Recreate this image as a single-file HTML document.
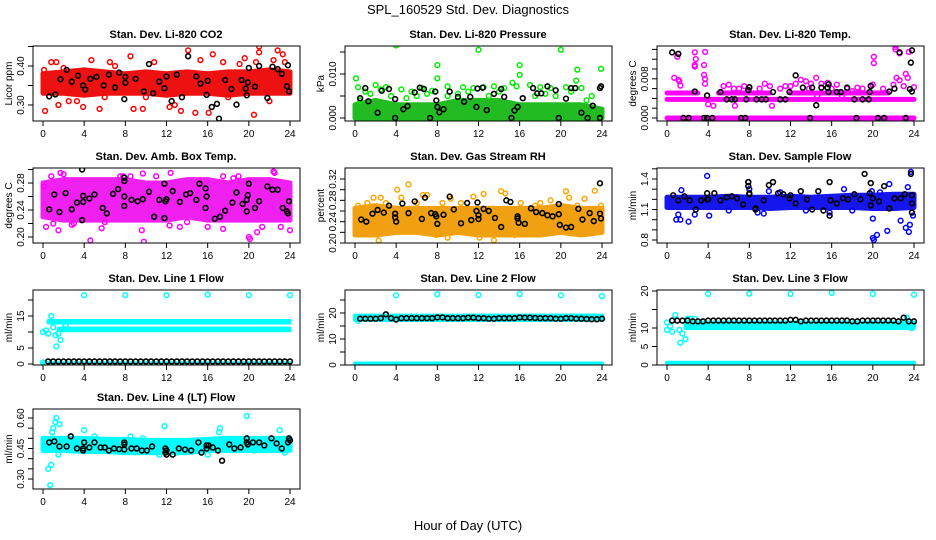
<!DOCTYPE html>
<html><head><meta charset="utf-8"><style>
html,body{margin:0;padding:0;background:#fff}
svg{display:block;font-family:"Liberation Sans",Arial,sans-serif}
</style></head><body>
<svg id="fig" width="936" height="540" viewBox="0 0 936 540">
<text x="468" y="14" text-anchor="middle" font-size="13">SPL_160529  Std. Dev. Diagnostics</text>
<text x="468" y="530" text-anchor="middle" font-size="13">Hour of Day (UTC)</text>
</svg>
<script>
const bandHours=[0,2,4,6,8,10,12,14,16,18,20,22,24];
const xTicks=[0,4,8,12,16,20,24];
const rowHours=[0.5,1,1.5,2,2.5,3,3.5,4,4.5,5,5.5,6,6.5,7,7.5,8,8.5,9,9.5,10,10.5,11,11.5,12,12.5,13,13.5,14,14.5,15,15.5,16,16.5,17,17.5,18,18.5,19,19.5,20,20.5,21,21.5,22,22.5,23,23.5,24];
const flowOutHours=[4,8,12,16,20,24];

// P1 CO2
const co2Lo=[0.33,0.33,0.325,0.33,0.33,0.33,0.325,0.33,0.33,0.325,0.33,0.33,0.33];
const co2Hi=[0.38,0.385,0.39,0.385,0.38,0.385,0.38,0.385,0.38,0.385,0.385,0.39,0.385];
const co2Pts=[[0.2,0.285],[0.8,0.41],[1.3,0.41],[1.5,0.30],[2.0,0.395],[3.3,0.31],[3.9,0.295],[4.7,0.415],[5.5,0.29],[6.5,0.41],[7.0,0.40],[8.5,0.425],[8.8,0.29],[9.7,0.29],[10.8,0.41],[12.3,0.295],[12.8,0.30],[13.4,0.285],[14.1,0.44],[14.8,0.28],[15.3,0.415],[16.1,0.28],[16.5,0.43],[17.5,0.41],[19.1,0.405],[19.6,0.42],[20.5,0.275],[20.7,0.41],[21.0,0.45],[21.0,0.435],[22.0,0.31],[22.4,0.415],[22.8,0.44],[23.3,0.43],[23.5,0.41],[0.1,0.39],[6,0.32],[10,0.32],[18,0.32],[2.5,0.31]];
const co2Blk=[[0.6,0.322],[1.2,0.327],[1.7,0.366],[2.3,0.39],[2.8,0.36],[3.4,0.375],[3.9,0.35],[4.1,0.34],[4.6,0.367],[5.2,0.372],[5.9,0.35],[6.4,0.378],[7.0,0.345],[7.4,0.383],[7.9,0.315],[8.0,0.372],[8.0,0.357],[9.0,0.367],[9.8,0.335],[10.3,0.405],[10.7,0.33],[11.3,0.36],[12.0,0.373],[11.8,0.343],[12.5,0.31],[13.0,0.378],[13.5,0.32],[14.1,0.425],[14.9,0.373],[15.3,0.355],[15.9,0.326],[16.0,0.362],[16.4,0.295],[16.9,0.303],[17.1,0.265],[17.7,0.364],[18.3,0.341],[18.8,0.301],[19.3,0.364],[19.7,0.342],[19.8,0.325],[19.9,0.358],[20.0,0.395],[20.6,0.347],[21.0,0.4],[21.8,0.318],[22.3,0.398],[22.8,0.392],[23.2,0.38],[23.8,0.402],[23.7,0.348],[23.9,0.335]];

// P2 Pressure
const presLo=[0.0003,0.0003,0.0003,0.0003,0.0003,0.0003,0.0003,0.0003,0.0003,0.0003,0.0003,0.0003,0.0003];
const presHi=[0.003,0.004,0.003,0.003,0.003,0.004,0.004,0.004,0.003,0.003,0.003,0.003,0.002];
const presRowLo=[0,0,0,0,0,0,0,0,0,0,0,0,0];
const presRowHi=[0,0,0,0,0,0,0,0,0,0,0,0,0];
const presPts=[[0.1,0.009],[4.0,0.0165],[8.0,0.012],[8.0,0.009],[12.0,0.0155],[16.0,0.012],[16.0,0.0098],[20.0,0.0155],[21.6,0.011],[23.9,0.0112],[0.3,0.007],[1.0,0.006],[2.0,0.0075],[2.5,0.0065],[3.0,0.007],[4.5,0.0065],[5.5,0.006],[6.5,0.0068],[7.5,0.0062],[9.0,0.0072],[10.5,0.007],[11.5,0.0068],[12.5,0.007],[13.5,0.0072],[14.5,0.0068],[15.3,0.008],[15.7,0.0072],[17.0,0.0075],[18.0,0.007],[19.0,0.0068],[20.5,0.007],[21.5,0.0085],[22.0,0.0068],[23.0,0.005],[0.5,0.004],[3.5,0.005],[6,0.005],[9,0.005],[13,0.005],[17.5,0.005],[19.5,0.005],[22.5,0.004],[1.5,0.0055],[5,0.0045],[7,0.0055],[10,0.0055],[11,0.006],[14,0.006],[18.5,0.0055],[21,0.006]];
const presBlk=[[0.5,0.0045],[1.0,0.0068],[1.3,0.0038],[2.2,0.0012],[2.6,0.0062],[3.3,0.0066],[3.9,0.0043],[3.9,0],[4.7,0.002],[5.1,0.0027],[5.8,0.0058],[6.3,0.0069],[6.7,0.0066],[7.3,0],[7.8,0.006],[7.9,0.004],[8.0,0.0025],[8.2,0.0013],[8.6,0.002],[9.2,0.006],[10.0,0.0048],[10.6,0.0037],[11.2,0.0048],[11.8,0.0025],[11.9,0.0067],[12.4,0.0069],[12.8,0.0018],[13.5,0.0055],[14.2,0.0066],[14.5,0.0048],[15.2,0],[15.5,0.0017],[15.8,0.0025],[16.3,0.0045],[17.3,0.0068],[17.7,0.0056],[18.1,0.0056],[18.7,0.0072],[19.5,0.0063],[19.8,0],[20.5,0.0044],[21.0,0.0068],[21.4,0.0068],[22.0,0.0012],[22.6,0],[23.1,0.0028],[23.8,0.0068],[23.8,0],[23.9,0.0072]];

// P3 Li-820 Temp
const tmpRow0=[0,0,0,0,0,0,0,0,0,0,0,0,0];
const tmpRow1=[0.0038,0.0038,0.0038,0.0038,0.0038,0.0038,0.0038,0.0038,0.0038,0.0038,0.0038,0.0038,0.0038];
const tmpRow2=[0.0051,0.0051,0.0051,0.0051,0.0051,0.0051,0.0051,0.0051,0.0051,0.0051,0.0051,0.0051,0.0051];
const tmpPts=[[0.7,0.0082],[1.0,0.0125],[1.1,0.0078],[1.2,0.0075],[1.3,0.0066],[2.7,0.0134],[2.8,0.0120],[2.7,0.0108],[2.7,0.0105],[3.7,0.0135],[3.6,0.0108],[3.6,0.0088],[3.7,0.0080],[3.7,0.007],[4.0,0.0028],[4.5,0.0025],[5.5,0.0065],[6.0,0.0068],[6.5,0.006],[7.0,0.006],[7.5,0.0065],[8.0,0.0062],[9.5,0.007],[10.0,0.0065],[11.0,0.006],[11.5,0.0065],[12.5,0.007],[13.0,0.0078],[13.5,0.0075],[14.0,0.007],[14.5,0.0082],[15.0,0.007],[15.6,0.0072],[16.5,0.0068],[17.5,0.006],[18.0,0.0055],[19.0,0.006],[19.8,0.0066],[20.1,0.0112],[20.1,0.0125],[20.0,0.0068],[21.0,0.006],[22.0,0.0068],[22.2,0.0145],[22.2,0.0140],[22.6,0.0132],[22.3,0.0082],[22.6,0.0077],[23.0,0.0065],[23.2,0.009],[23.4,0.0082],[23.5,0.0135],[24.0,0.0063],[6.6,0.0025],[10.2,0.0025],[14.6,0.0045],[17.0,0.0045],[9,0.006],[12,0.0065],[13.8,0.006],[16,0.006],[18.5,0.0062]];
const tmpBlk=[[0.5,0.0134],[1.1,0.0131],[2.7,0.0054],[3.9,0.0046],[5.2,0.0053],[5.8,0.0038],[6.3,0.0038],[6.6,0.0038],[7.7,0.0038],[7.9,0.0057],[8.0,0.0063],[8.7,0.0038],[9.2,0.0038],[9.6,0.0038],[10.3,0.0053],[11.0,0.0038],[11.5,0.0038],[11.9,0.0053],[12.5,0.0087],[13.2,0.0062],[14.1,0.0062],[14.5,0.0026],[15.0,0.0062],[15.6,0.0062],[15.7,0.0069],[15.7,0.0053],[16.5,0.0053],[16.9,0.0053],[17.5,0.0062],[18.2,0.0038],[19.0,0.0038],[19.6,0.0038],[19.7,0.0053],[19.8,0.0065],[21.6,0.0054],[22.1,0.006],[22.6,0.0134],[23.6,0.0059],[23.7,0.0113],[23.8,0.0138],[23.8,0.0054],[1.6,0],[2.1,0],[3.6,0],[3.9,0],[4.4,0],[7.2,0],[7.6,0],[13.9,0],[18.4,0],[20.5,0],[21.1,0],[23.2,0]];

// P4 Amb box temp
const ambLo=[0.23,0.225,0.225,0.225,0.225,0.225,0.225,0.23,0.225,0.225,0.225,0.225,0.225];
const ambHi=[0.28,0.285,0.285,0.285,0.285,0.28,0.28,0.285,0.285,0.28,0.285,0.285,0.28];
const ambPts=[[0.3,0.215],[0.8,0.29],[1.5,0.21],[1.7,0.295],[2.0,0.293],[2.8,0.218],[4.6,0.195],[5.7,0.213],[7.5,0.29],[7.8,0.29],[8.5,0.29],[9.6,0.21],[9.7,0.294],[9.8,0.193],[11.0,0.29],[12.4,0.295],[12.3,0.217],[13.3,0.215],[16.0,0.215],[17.5,0.212],[17.5,0.29],[18.5,0.287],[20.0,0.2],[20.1,0.197],[20.8,0.207],[21.3,0.215],[22.4,0.297],[22.5,0.295],[23.1,0.215],[24.0,0.21],[1.0,0.22],[3.0,0.22],[6,0.222],[14,0.222],[19,0.29],[0.1,0.275]];
const ambBlk=[[0.6,0.241],[1.1,0.263],[1.6,0.237],[2.2,0.265],[2.8,0.241],[3.3,0.251],[3.8,0.225],[3.8,0.3],[3.9,0.261],[3.9,0.252],[4.5,0.257],[5.0,0.263],[5.8,0.243],[6.2,0.235],[6.8,0.264],[7.3,0.271],[7.9,0.288],[7.9,0.283],[7.9,0.26],[7.9,0.246],[8.6,0.255],[9.2,0.253],[9.7,0.256],[10.3,0.267],[10.8,0.23],[11.3,0.255],[11.8,0.228],[11.8,0.279],[11.9,0.253],[12.0,0.256],[12.6,0.268],[13.3,0.252],[13.9,0.263],[14.3,0.265],[14.9,0.255],[15.2,0.279],[15.8,0.272],[15.8,0.243],[15.9,0.26],[16.7,0.227],[17.2,0.23],[17.7,0.239],[18.4,0.251],[18.8,0.266],[19.4,0.249],[19.8,0.238],[19.8,0.255],[19.9,0.262],[20.0,0.279],[20.6,0.243],[21.0,0.253],[21.8,0.275],[22.3,0.27],[22.8,0.27],[23.3,0.243],[23.7,0.238],[23.8,0.235],[23.9,0.253]];

// P5 RH
const rhLo=[0.215,0.215,0.22,0.22,0.215,0.22,0.215,0.215,0.215,0.215,0.22,0.215,0.22];
const rhHi=[0.265,0.27,0.265,0.265,0.265,0.265,0.265,0.265,0.265,0.265,0.27,0.265,0.265];
const rhPts=[[0.3,0.27],[1.2,0.275],[1.8,0.285],[2.3,0.205],[2.5,0.285],[4.1,0.3],[4.5,0.285],[5.2,0.31],[6.6,0.29],[7.0,0.29],[7.9,0.215],[8.5,0.275],[9.3,0.283],[10.3,0.275],[11.5,0.287],[12.1,0.21],[12.5,0.292],[13.5,0.205],[14.2,0.297],[14.6,0.293],[16.1,0.275],[17.5,0.27],[19.0,0.28],[20.5,0.297],[20.8,0.285],[21.6,0.27],[22.3,0.283],[23.3,0.298],[23.9,0.27],[15.5,0.215],[3,0.275],[6,0.275],[9,0.21],[18,0.275]];
const rhBlk=[[0.6,0.244],[1.1,0.24],[1.7,0.255],[2.2,0.262],[2.8,0.257],[3.3,0.27],[3.9,0.255],[3.9,0.248],[4.0,0.24],[4.6,0.274],[5.2,0.256],[5.8,0.278],[6.5,0.245],[6.8,0.285],[7.4,0.256],[7.8,0.254],[7.9,0.25],[8.0,0.236],[8.6,0.253],[9.2,0.287],[9.6,0.263],[10.3,0.237],[10.9,0.275],[11.3,0.243],[11.8,0.26],[11.9,0.276],[12.0,0.252],[12.0,0.245],[12.5,0.264],[13.0,0.26],[13.6,0.247],[14.2,0.23],[14.7,0.28],[15.1,0.277],[15.8,0.25],[15.8,0.246],[15.9,0.238],[16.5,0.236],[17.1,0.265],[17.6,0.258],[18.2,0.256],[18.7,0.252],[19.2,0.25],[19.8,0.273],[19.8,0.254],[19.9,0.234],[20.5,0.229],[21.0,0.23],[21.7,0.264],[22.1,0.244],[22.8,0.256],[23.2,0.241],[23.8,0.312],[23.8,0.255],[23.9,0.246]];

// P6 Sample flow
const sfLo=[1.12,1.12,1.12,1.12,1.12,1.11,1.12,1.12,1.12,1.12,1.11,1.11,1.12];
const sfHi=[1.22,1.22,1.22,1.23,1.22,1.22,1.23,1.22,1.23,1.24,1.24,1.25,1.25];
const sfPts=[[0.9,1.0],[1.1,1.05],[1.3,1.0],[1.4,1.29],[2.1,0.98],[2.7,1.05],[3.9,1.43],[4.1,1.04],[7.9,1.37],[8.0,1.3],[8.8,1.07],[9.4,1.06],[9.9,1.28],[15.8,1.07],[17.2,1.3],[19.9,1.28],[20.0,1.01],[20.0,0.82],[20.1,0.8],[20.4,0.85],[20.7,1.27],[21.4,0.89],[21.6,1.35],[22.7,0.99],[23.2,0.92],[23.4,1.32],[23.5,0.88],[23.6,0.95],[23.7,1.47],[23.9,1.04],[6,1.09],[11,1.27],[13.5,1.09],[18,1.09]];
const sfBlk=[[0.6,1.24],[1.1,1.19],[1.7,1.23],[2.2,1.19],[2.8,1.1],[3.3,1.19],[3.9,1.26],[3.9,1.2],[4.0,1.2],[4.6,1.26],[5.2,1.19],[5.8,1.22],[6.3,1.23],[6.8,1.21],[7.4,1.15],[7.9,1.37],[7.9,1.33],[8.0,1.25],[8.0,1.26],[8.6,1.1],[8.6,1.11],[9.4,1.19],[9.9,1.34],[10.3,1.37],[10.8,1.26],[11.3,1.25],[11.9,1.21],[12.0,1.24],[12.5,1.16],[13.0,1.28],[13.6,1.2],[14.1,1.1],[14.7,1.28],[15.2,1.09],[15.8,1.37],[15.8,1.04],[15.9,1.19],[16.5,1.16],[17.1,1.21],[17.6,1.2],[18.2,1.25],[18.8,1.2],[19.2,1.45],[19.7,1.26],[19.8,1.36],[19.8,1.14],[20.0,1.21],[20.6,1.18],[21.1,1.33],[21.6,1.11],[22.1,1.21],[22.7,1.21],[23.1,1.25],[23.7,1.45],[23.8,1.24],[23.8,1.16],[23.8,1.07]];

// P7 Line 1
const l1HiLo=[12.8,12.8,12.8,12.8,12.8,12.8,12.8,12.8,12.8,12.8,12.8,12.8,12.8];
const l1HiHi=[13.6,13.6,13.6,13.6,13.6,13.6,13.6,13.6,13.6,13.6,13.6,13.6,13.6];
const l1LoLo=[10.4,10.4,10.4,10.4,10.4,10.4,10.4,10.4,10.4,10.4,10.4,10.4,10.4];
const l1LoHi=[11.2,11.2,11.2,11.2,11.2,11.2,11.2,11.2,11.2,11.2,11.2,11.2,11.2];
const l1Zero=[0.4,0.4,0.4,0.4,0.4,0.4,0.4,0.4,0.4,0.4,0.4,0.4,0.4];
const l1OutVals=[21.5,21.5,21.5,21.7,21.5,21.5];
const l1Pts=[[0.0,0.5],[0.0,10],[0.3,10.5],[0.5,9.5],[0.8,15],[1.0,11.5],[1.2,9],[1.3,5.5],[1.5,9.5],[1.7,7.5],[2.0,11],[2.2,12]];
const l1BlkVals=[0.8,0.8,0.8,0.8,0.8,0.8,0.8,0.8,0.8,0.8,0.8,0.8,0.8,0.8,0.8,0.8,0.8,0.8,0.8,0.8,0.8,0.8,0.8,0.8,0.8,0.8,0.8,0.8,0.8,0.8,0.8,0.8,0.8,0.8,0.8,0.8,0.8,0.8,0.8,0.8,0.8,0.8,0.8,0.8,0.8,0.8,0.8,0.8];

// P8 Line 2
const l2Lo=[17.3,17.3,17.3,17.3,17.3,17.3,17.3,17.3,17.3,17.3,17.3,17.3,17.3];
const l2Hi=[19.0,19.0,19.0,19.0,19.0,19.0,19.0,19.0,19.0,19.0,19.0,19.0,19.0];
const l2Zero=[0.6,0.6,0.6,0.6,0.6,0.6,0.6,0.6,0.6,0.6,0.6,0.6,0.6];
const l2OutVals=[26.8,27.2,26.9,27.3,26.8,26.5];
const l2Pts=[[0.1,18.2],[0.3,17]];
const l2BlkVals=[17.8,17.8,17.8,17.8,18,19.5,18,17.5,18,18,18,18,18,18,18,18.3,18.3,18,18,18,18,18.2,18.2,18,18,17.8,17.8,18,18,18,18,18.3,18.2,18.2,18.1,18,18,18,17.8,17.8,18,18,17.8,17.8,17.7,17.6,17.6,17.8];

// P9 Line 3
const l3Lo=[10.0,10.0,10.0,10.0,10.0,10.0,10.0,10.0,10.0,10.0,10.0,10.0,10.0];
const l3Hi=[11.5,11.5,11.5,11.5,11.5,11.5,11.5,11.5,11.5,11.5,11.5,11.5,11.5];
const l3Zero=[0.6,0.6,0.6,0.6,0.6,0.6,0.6,0.6,0.6,0.6,0.6,0.6,0.6];
const l3OutVals=[19.2,19.3,19.2,19.5,19.2,19.0];
const l3Pts=[[0,9.5],[0,11.5],[0.3,10.5],[0.5,9],[0.8,13.5],[1.2,9.5],[1.3,6],[1.5,8.5],[1.8,7],[2.0,12.5],[2.3,12.5],[2.7,12.5],[23.3,12.8],[23.8,10]];
const l3BlkVals=[12,12,12,12,11.8,11.8,11.8,12,12,12,12,12,12,12,12,12,12,12,12,12,12,12,12,12.2,12.2,11.8,12,12,12,12,12,12,12,12,12,11.8,11.8,12,12,12,12,12,12,12,11.8,12.8,11.8,11.8];

// P10 Line 4
const l4Lo=[0.44,0.44,0.435,0.435,0.43,0.43,0.43,0.43,0.44,0.44,0.44,0.44,0.44];
const l4Hi=[0.50,0.50,0.50,0.495,0.495,0.49,0.49,0.49,0.495,0.50,0.50,0.50,0.50];
const l4Pts=[[0.5,0.35],[0.7,0.27],[0.8,0.37],[0.9,0.53],[1.0,0.55],[1.2,0.58],[1.3,0.6],[1.5,0.42],[1.6,0.57],[4.0,0.54],[5.0,0.51],[7.0,0.48],[8.5,0.51],[9.7,0.5],[11.8,0.56],[11.3,0.42],[13.0,0.43],[16.0,0.42],[17.1,0.53],[17.2,0.55],[19.8,0.61],[20.5,0.44],[23.0,0.54],[23.5,0.43],[0.1,0.46]];
const l4Blk=[[0.6,0.48],[1.1,0.485],[1.6,0.46],[2.3,0.46],[2.7,0.51],[3.3,0.45],[3.9,0.44],[3.9,0.45],[4.0,0.48],[4.5,0.455],[5.0,0.48],[5.6,0.455],[6.0,0.455],[6.4,0.44],[6.9,0.45],[7.4,0.447],[7.9,0.47],[7.9,0.48],[7.9,0.445],[8.6,0.45],[9.1,0.45],[9.6,0.44],[10.1,0.44],[10.6,0.46],[11.9,0.45],[11.9,0.43],[12.0,0.42],[12.0,0.44],[12.6,0.42],[13.2,0.45],[13.8,0.445],[14.4,0.44],[15.1,0.48],[15.4,0.43],[15.9,0.45],[15.9,0.465],[16.1,0.465],[16.5,0.455],[17.0,0.44],[17.4,0.39],[18.1,0.47],[18.6,0.45],[19.2,0.455],[19.8,0.48],[19.8,0.5],[19.9,0.47],[20.4,0.48],[21.0,0.48],[21.5,0.465],[22.2,0.5],[22.7,0.475],[23.2,0.45],[23.8,0.48],[23.9,0.5],[24.0,0.49]];

const NS='http://www.w3.org/2000/svg';
const svg=document.getElementById('fig');
function el(tag,attrs,parent){const e=document.createElementNS(NS,tag);for(const k in attrs)e.setAttribute(k,attrs[k]);(parent||svg).appendChild(e);return e;}
function pairs(h,v){return h.map((x,i)=>[x,v[i]]);}

const panels=[
 {id:'co2',title:'Stan. Dev. Li-820 CO2',ylab:'Licor ppm',col:0,top:46,bot:121,ref:[0.30,105,0.40,66],ticks:[0.30,0.35,0.40,0.45],labels:['0.30','','0.40',''],color:'#ff0000',band:'#ee1111',sw:5,
  bands:[[bandHours,co2Lo,co2Hi]],pts:co2Pts,blk:co2Blk},
 {id:'pressure',title:'Stan. Dev. Li-820 Pressure',ylab:'kPa',col:1,top:46,bot:121,ref:[0,118,0.010,74],ticks:[0,0.005,0.010,0.015],labels:['0.000','','0.010',''],color:'#00ee00',band:'#22bb22',sw:5,
  bands:[[bandHours,presLo,presHi],[bandHours,presRowLo,presRowHi]],pts:presPts,blk:presBlk},
 {id:'li820-temp',title:'Stan. Dev. Li-820 Temp.',ylab:'degrees C',col:2,top:46,bot:121,ref:[0,118,0.008,78.8],ticks:[0,0.002,0.004,0.006,0.008,0.010,0.012,0.014],labels:['0.000','','','','0.008','','',''],color:'#ff00ff',band:'#ff00ff',sw:5,
  bands:[[bandHours,tmpRow0,tmpRow0],[bandHours,tmpRow1,tmpRow1],[[0,3],[tmpRow2[0],tmpRow2[1]],[tmpRow2[0],tmpRow2[1]]],[[5,10],[tmpRow2[2],tmpRow2[3]],[tmpRow2[2],tmpRow2[3]]],[[12,21.5],[tmpRow2[4],tmpRow2[5]],[tmpRow2[4],tmpRow2[5]]]],pts:tmpPts,blk:tmpBlk},
 {id:'amb-box-temp',title:'Stan. Dev. Amb. Box Temp.',ylab:'degrees C',col:0,top:168,bot:243,ref:[0.20,237,0.28,183],ticks:[0.20,0.22,0.24,0.26,0.28,0.30],labels:['0.20','','0.24','','0.28',''],color:'#ff00ff',band:'#f020f0',sw:5,
  bands:[[bandHours,ambLo,ambHi]],pts:ambPts,blk:ambBlk},
 {id:'gas-rh',title:'Stan. Dev. Gas Stream RH',ylab:'percent',col:1,top:168,bot:243,ref:[0.20,243,0.32,179],ticks:[0.20,0.22,0.24,0.26,0.28,0.30,0.32],labels:['0.20','','0.24','','0.28','','0.32'],color:'#ffa500',band:'#f0a010',sw:5,
  bands:[[bandHours,rhLo,rhHi]],pts:rhPts,blk:rhBlk},
 {id:'sample-flow',title:'Stan. Dev. Sample Flow',ylab:'ml/min',col:2,top:168,bot:243,ref:[0.8,240,1.4,179],ticks:[0.8,0.9,1.0,1.1,1.2,1.3,1.4,1.5],labels:['0.8','','','1.1','','','1.4',''],color:'#0000ff',band:'#1515ee',sw:5,
  bands:[[bandHours,sfLo,sfHi]],pts:sfPts,blk:sfBlk},
 {id:'line1-flow',title:'Stan. Dev. Line 1 Flow',ylab:'ml/min',col:0,top:290,bot:365,ref:[0,364,15,316],ticks:[0,5,10,15,20],labels:['0','5','','15',''],color:'#00ffff',band:'#00ffff',sw:3,
  bands:[[[0.5,24],[l1HiLo[0],l1HiLo[12]],[l1HiHi[0],l1HiHi[12]]],[[1.5,24],[l1LoLo[0],l1LoLo[12]],[l1LoHi[0],l1LoHi[12]]],[bandHours,l1Zero,l1Zero]],pts:l1Pts.concat(pairs(flowOutHours,l1OutVals)),blk:pairs(rowHours,l1BlkVals)},
 {id:'line2-flow',title:'Stan. Dev. Line 2 Flow',ylab:'ml/min',col:1,top:290,bot:365,ref:[0,365,20,313],ticks:[0,5,10,15,20,25],labels:['0','','10','','20',''],color:'#00ffff',band:'#00ffff',sw:4,
  bands:[[bandHours,l2Lo,l2Hi],[bandHours,l2Zero,l2Zero]],pts:l2Pts.concat(pairs(flowOutHours,l2OutVals)),blk:pairs(rowHours,l2BlkVals)},
 {id:'line3-flow',title:'Stan. Dev. Line 3 Flow',ylab:'ml/min',col:2,top:290,bot:365,ref:[0,365,20,291],ticks:[0,5,10,15,20],labels:['0','5','10','','20'],color:'#00ffff',band:'#00ffff',sw:4,
  bands:[[[1.8,24],[l3Lo[0],l3Lo[12]],[l3Hi[0],l3Hi[12]]],[bandHours,l3Zero,l3Zero]],pts:l3Pts.concat(pairs(flowOutHours,l3OutVals)),blk:pairs(rowHours,l3BlkVals)},
 {id:'line4-flow',title:'Stan. Dev. Line 4 (LT) Flow',ylab:'ml/min',col:0,top:409,bot:489,ref:[0.30,479,0.60,418],ticks:[0.30,0.35,0.40,0.45,0.50,0.55,0.60],labels:['0.30','','','0.45','','','0.60'],color:'#00ffff',band:'#00ffff',sw:5,
  bands:[[bandHours,l4Lo,l4Hi]],pts:l4Pts,blk:l4Blk}
];
const colL=[33,345,657];

panels.forEach(p=>{
  const L=colL[p.col];
  const xs=h=>L+10+h*247/24;
  const [v1,p1,v2,p2]=p.ref;
  const ys=v=>p1+(v-v1)*(p2-p1)/(v2-v1);
  const g=el('g',{});
  
  
  const cid='clip-'+p.id;
  const cp=el('clipPath',{id:cid},g);el('rect',{x:L,y:p.top,width:267,height:p.bot-p.top},cp);
  const plot=el('g',{'clip-path':'url(#'+cid+')'},g);
  
  
  p.bands.forEach(b=>{
    const [hs,lo,hi]=b;
    const ptsStr=hs.map((h,i)=>xs(h)+','+ys(hi[i])).concat(hs.map((h,i)=>xs(h)+','+ys(lo[i])).reverse()).join(' ');
    const poly=el('polygon',{points:ptsStr,fill:p.band,stroke:p.band,'stroke-width':p.sw,'stroke-linejoin':'round'},plot);
    
    
  });
  p.pts.forEach(pt=>{
    const c=el('circle',{cx:xs(pt[0]),cy:ys(pt[1]),r:2.4,fill:'none',stroke:p.color,'stroke-width':1.5},plot);
    
    
  });
  p.blk.forEach(pt=>{
    const c=el('circle',{cx:xs(pt[0]),cy:ys(pt[1]),r:2.4,fill:'none',stroke:'#000','stroke-width':1.6},plot);
    
    
  });
  const box=el('rect',{x:L,y:p.top,width:267,height:p.bot-p.top,fill:'none',stroke:'#000','stroke-width':1},g);
  
  
  const t=el('text',{x:L+133,y:p.top-8,'text-anchor':'middle','font-size':11,'font-weight':'bold'},g);
  t.textContent=p.title;
  
  
  xTicks.forEach(h=>{
    el('line',{x1:xs(h),x2:xs(h),y1:p.bot,y2:p.bot+5,stroke:'#000'},g);
    const tl=el('text',{x:xs(h),y:p.bot+16,'text-anchor':'middle','font-size':10},g);
    tl.textContent=h;
    
    
  });
  p.ticks.forEach((v,i)=>{
    const y=ys(v);
    el('line',{x1:L-5,x2:L,y1:y,y2:y,stroke:'#000'},g);
    if(p.labels[i]){
      const tl=el('text',{x:L-9,y:y,'text-anchor':'middle','font-size':10,transform:'rotate(-90 '+(L-9)+' '+y+')'},g);
      tl.textContent=p.labels[i];
      
      
    }
  });
  const yc=(p.top+p.bot)/2;
  const yl=el('text',{x:L-21,y:yc,'text-anchor':'middle','font-size':10,transform:'rotate(-90 '+(L-21)+' '+yc+')'},g);
  yl.textContent=p.ylab;
  
  
});
</script>
</body></html>
